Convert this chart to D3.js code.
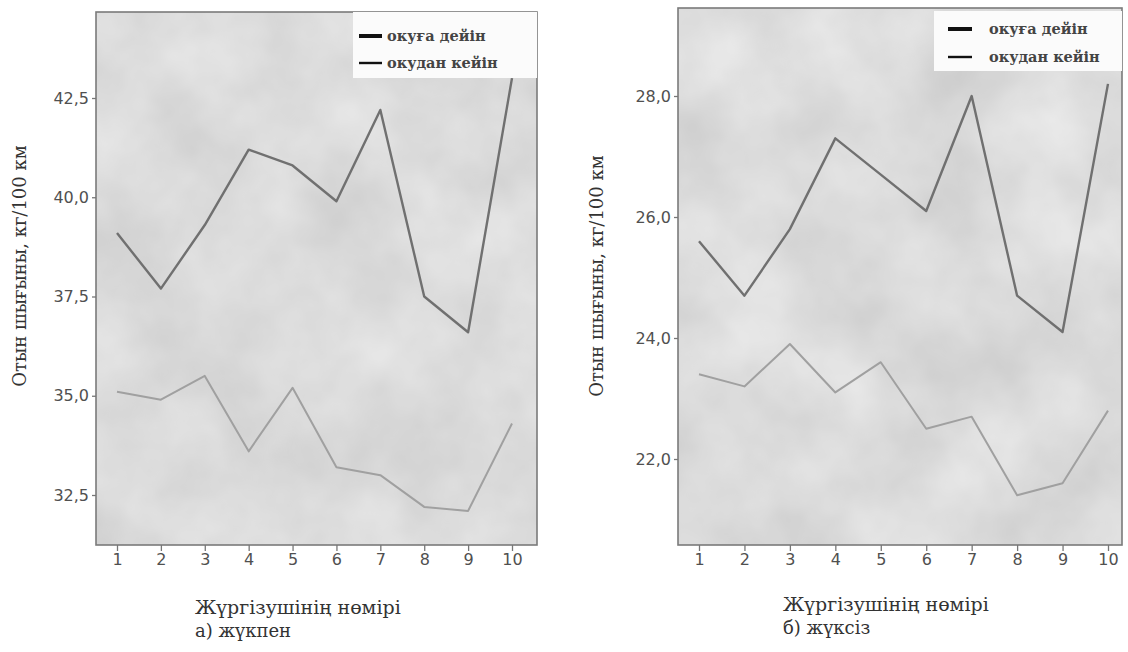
<!doctype html>
<html>
<head>
<meta charset="utf-8">
<title>Отын шығыны</title>
<style>
  body { margin: 0; background: #fff; }
  svg { display: block; }
</style>
</head>
<body>
<script src="https://d3js.org/d3.v7.min.js"></script>
<script>
    // drivers
    var drivers = [1, 2, 3, 4, 5, 6, 7, 8, 9, 10];

    // a) with load
    var loadedBefore = [39.1, 37.7, 39.3, 41.2, 40.8, 39.9, 42.2, 37.5, 36.6, 43.0];
    var loadedAfter = [35.1, 34.9, 35.5, 33.6, 35.2, 33.2, 33.0, 32.2, 32.1, 34.3];
    var loadedTicks = [32.5, 35.0, 37.5, 40.0, 42.5];

    // b) without load
    var emptyBefore = [25.6, 24.7, 25.8, 27.3, 26.7, 26.1, 28.0, 24.7, 24.1, 28.2];
    var emptyAfter = [23.4, 23.2, 23.9, 23.1, 23.6, 22.5, 22.7, 21.4, 21.6, 22.8];
    var emptyTicks = [22.0, 24.0, 26.0, 28.0];

    var seriesNames = ["окуға дейін", "окудан кейін"];
    var yTitle = "Отын шығыны, кг/100 км";
    var xTitle = "Жүргізушінің нөмірі";

    var w = 1128;
    var h = 652;
    var serif = "'DejaVu Serif', 'Liberation Serif', serif";

    var svg = d3.select("body")
        .append("svg")
        .attr("width", w)
        .attr("height", h);

    // mottled grey paper look for the plot area
    var filter = svg.append("defs").append("filter")
        .attr("id", "paper")
        .attr("color-interpolation-filters", "sRGB")
        .attr("x", 0).attr("y", 0).attr("width", 1).attr("height", 1);
    filter.append("feTurbulence")
        .attr("type", "fractalNoise")
        .attr("baseFrequency", 0.01)
        .attr("numOctaves", 4)
        .attr("seed", 7);
    filter.append("feColorMatrix")
        .attr("type", "matrix")
        .attr("values", "0.14 0 0 0 0.79  0.14 0 0 0 0.79  0.14 0 0 0 0.79  0 0 0 0 1");

    var fmt = function (d) { return d3.format(".1f")(d).replace(".", ","); };

    var panels = [
        {
            before: loadedBefore, after: loadedAfter, ticks: loadedTicks,
            left: 96, right: 537, top: 12, bottom: 545,
            xr: [117, 512], yd: [32.5, 42.5], yr: [495, 98],
            yTitleX: 20, yTitleY: 266, xTitleX: 195, xTitleY: 614, caption: "а) жүкпен",
            legend: { x: 353, y: 12, w: 184, h: 66, sx: 359, sw: 23, tx: 387, r1: 36, r2: 63 }
        },
        {
            before: emptyBefore, after: emptyAfter, ticks: emptyTicks,
            left: 678, right: 1122, top: 8, bottom: 545,
            xr: [699, 1108], yd: [22, 28], yr: [459, 96],
            yTitleX: 597, yTitleY: 276, xTitleX: 783, xTitleY: 611, caption: "б) жүксіз",
            legend: { x: 934, y: 11, w: 188, h: 60, sx: 948, sw: 24, tx: 989, r1: 29, r2: 57 }
        }
    ];

    panels.forEach(function (p) {
        var x = d3.scaleLinear().domain([1, 10]).range(p.xr);
        var y = d3.scaleLinear().domain(p.yd).range(p.yr);

        var g = svg.append("g");

        g.append("rect")
            .attr("x", p.left).attr("y", p.top)
            .attr("width", p.right - p.left).attr("height", p.bottom - p.top)
            .attr("filter", "url(#paper)");

        // frame
        g.append("rect")
            .attr("x", p.left).attr("y", p.top)
            .attr("width", p.right - p.left).attr("height", p.bottom - p.top)
            .attr("fill", "none")
            .attr("stroke", "#7a7a7a")
            .attr("stroke-width", 1.6);

        // y axis
        var yAxis = g.append("g")
            .attr("transform", "translate(" + p.left + ",0)")
            .call(d3.axisLeft(y).tickValues(p.ticks).tickFormat(fmt).tickSize(4).tickPadding(3));
        yAxis.select(".domain").remove();

        // x axis
        var xAxis = g.append("g")
            .attr("transform", "translate(0," + p.bottom + ")")
            .call(d3.axisBottom(x).tickValues(drivers).tickFormat(d3.format("d")).tickSize(6).tickPadding(3));
        xAxis.select(".domain").remove();

        g.selectAll(".tick line").attr("stroke", "#777").attr("stroke-width", 1.3);
        g.selectAll(".tick text")
            .attr("fill", "#505050")
            .style("font-family", "'DejaVu Sans', Verdana, sans-serif")
            .style("font-size", "16px");

        var line = d3.line()
            .x(function (d, i) { return x(drivers[i]); })
            .y(function (d) { return y(d); });

        g.append("path")
            .datum(p.after)
            .attr("d", line)
            .attr("fill", "none")
            .attr("stroke", "#a0a0a0")
            .attr("stroke-width", 2)
            .attr("stroke-linejoin", "round");

        g.append("path")
            .datum(p.before)
            .attr("d", line)
            .attr("fill", "none")
            .attr("stroke", "#707070")
            .attr("stroke-width", 2.4)
            .attr("stroke-linejoin", "round");

        // legend
        var L = p.legend;
        var lg = g.append("g");
        lg.append("rect")
            .attr("x", L.x).attr("y", L.y)
            .attr("width", L.w).attr("height", L.h)
            .attr("fill", "#fbfbfb");
        seriesNames.forEach(function (name, i) {
            var ly = i === 0 ? L.r1 : L.r2;
            lg.append("line")
                .attr("x1", L.sx).attr("x2", L.sx + L.sw)
                .attr("y1", ly).attr("y2", ly)
                .attr("stroke", "#111")
                .attr("stroke-width", i === 0 ? 4 : 2.4);
            lg.append("text")
                .attr("x", L.tx).attr("y", ly)
                .attr("dy", "0.35em")
                .attr("fill", "#444")
                .style("font-family", serif)
                .style("font-weight", "bold")
                .style("font-size", "14.5px")
                .text(name);
        });

        // axis titles
        g.append("text")
            .attr("transform", "translate(" + p.yTitleX + "," + p.yTitleY + ") rotate(-90)")
            .attr("text-anchor", "middle")
            .attr("dy", "0.35em")
            .attr("fill", "#333")
            .style("font-family", serif)
            .style("font-size", "18px")
            .text(yTitle);

        g.append("text")
            .attr("x", p.xTitleX).attr("y", p.xTitleY)
            .attr("fill", "#333")
            .style("font-family", serif)
            .style("font-size", "19px")
            .text(xTitle);

        g.append("text")
            .attr("x", p.xTitleX).attr("y", p.xTitleY + 23)
            .attr("fill", "#333")
            .style("font-family", serif)
            .style("font-size", "18px")
            .text(p.caption);
    });
</script>
</body>
</html>
